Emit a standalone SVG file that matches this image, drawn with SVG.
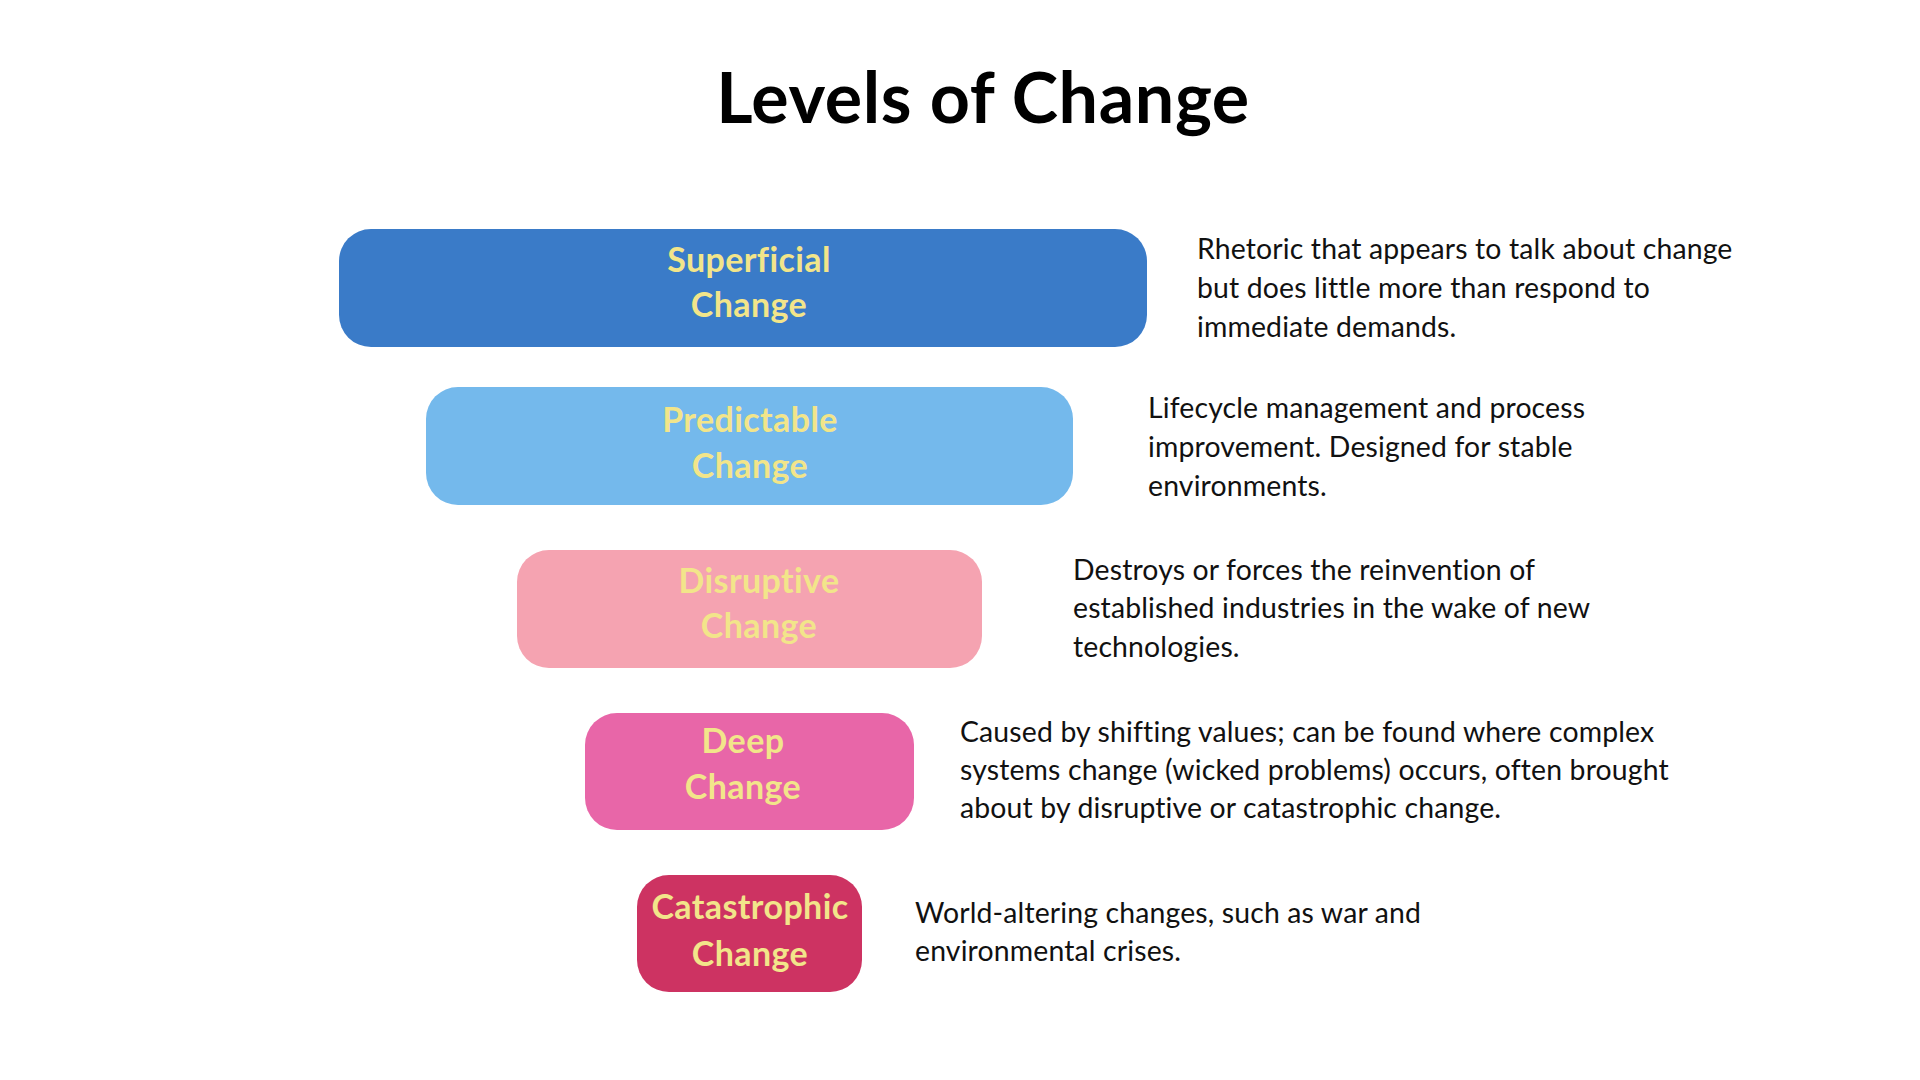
<svg xmlns="http://www.w3.org/2000/svg" width="1920" height="1080" viewBox="0 0 1920 1080">
<style>
.title{font-family:Lato,"Noto Sans",sans-serif;font-weight:700;font-size:70px;letter-spacing:0.6px;fill:#000;text-anchor:middle}
.lbl{font-family:Lato,"Noto Sans",sans-serif;font-weight:700;font-size:34px;letter-spacing:0.4px;fill:#F2E58A;text-anchor:middle}
.desc{font-family:Lato,"Noto Sans",sans-serif;font-size:28.4px;letter-spacing:0.15px;fill:#111}
</style>
<rect width="1920" height="1080" fill="#fff"/>
<text class="title" x="983" y="123">Levels of Change</text>
<g id="superficial">
<rect x="339" y="229" width="808" height="118" rx="32" fill="#3A7BC8"/>
<text class="lbl" x="749" y="272">Superficial</text>
<text class="lbl" x="749" y="317">Change</text>
<text class="desc"><tspan x="1197" y="259">Rhetoric that appears to talk about change</tspan><tspan x="1197" y="298">but does little more than respond to</tspan><tspan x="1197" y="337">immediate demands.</tspan></text>
</g>
<g id="predictable">
<rect x="426" y="387" width="647" height="118" rx="32" fill="#74B9EC"/>
<text class="lbl" x="750" y="432">Predictable</text>
<text class="lbl" x="750" y="478">Change</text>
<text class="desc"><tspan x="1148" y="418">Lifecycle management and process</tspan><tspan x="1148" y="457">improvement. Designed for stable</tspan><tspan x="1148" y="496">environments.</tspan></text>
</g>
<g id="disruptive">
<rect x="517" y="550" width="465" height="118" rx="32" fill="#F5A3B1"/>
<text class="lbl" x="759" y="593">Disruptive</text>
<text class="lbl" x="759" y="638">Change</text>
<text class="desc"><tspan x="1073" y="580">Destroys or forces the reinvention of</tspan><tspan x="1073" y="618">established industries in the wake of new</tspan><tspan x="1073" y="657">technologies.</tspan></text>
</g>
<g id="deep">
<rect x="585" y="713" width="329" height="117" rx="32" fill="#E866A8"/>
<text class="lbl" x="743" y="753">Deep</text>
<text class="lbl" x="743" y="799">Change</text>
<text class="desc"><tspan x="960" y="742">Caused by shifting values; can be found where complex</tspan><tspan x="960" y="780">systems change (wicked problems) occurs, often brought</tspan><tspan x="960" y="818">about by disruptive or catastrophic change.</tspan></text>
</g>
<g id="catastrophic">
<rect x="637" y="875" width="225" height="117" rx="32" fill="#CD3362"/>
<text class="lbl" x="750" y="919">Catastrophic</text>
<text class="lbl" x="750" y="966">Change</text>
<text class="desc"><tspan x="915" y="923">World-altering changes, such as war and</tspan><tspan x="915" y="961">environmental crises.</tspan></text>
</g>
</svg>
